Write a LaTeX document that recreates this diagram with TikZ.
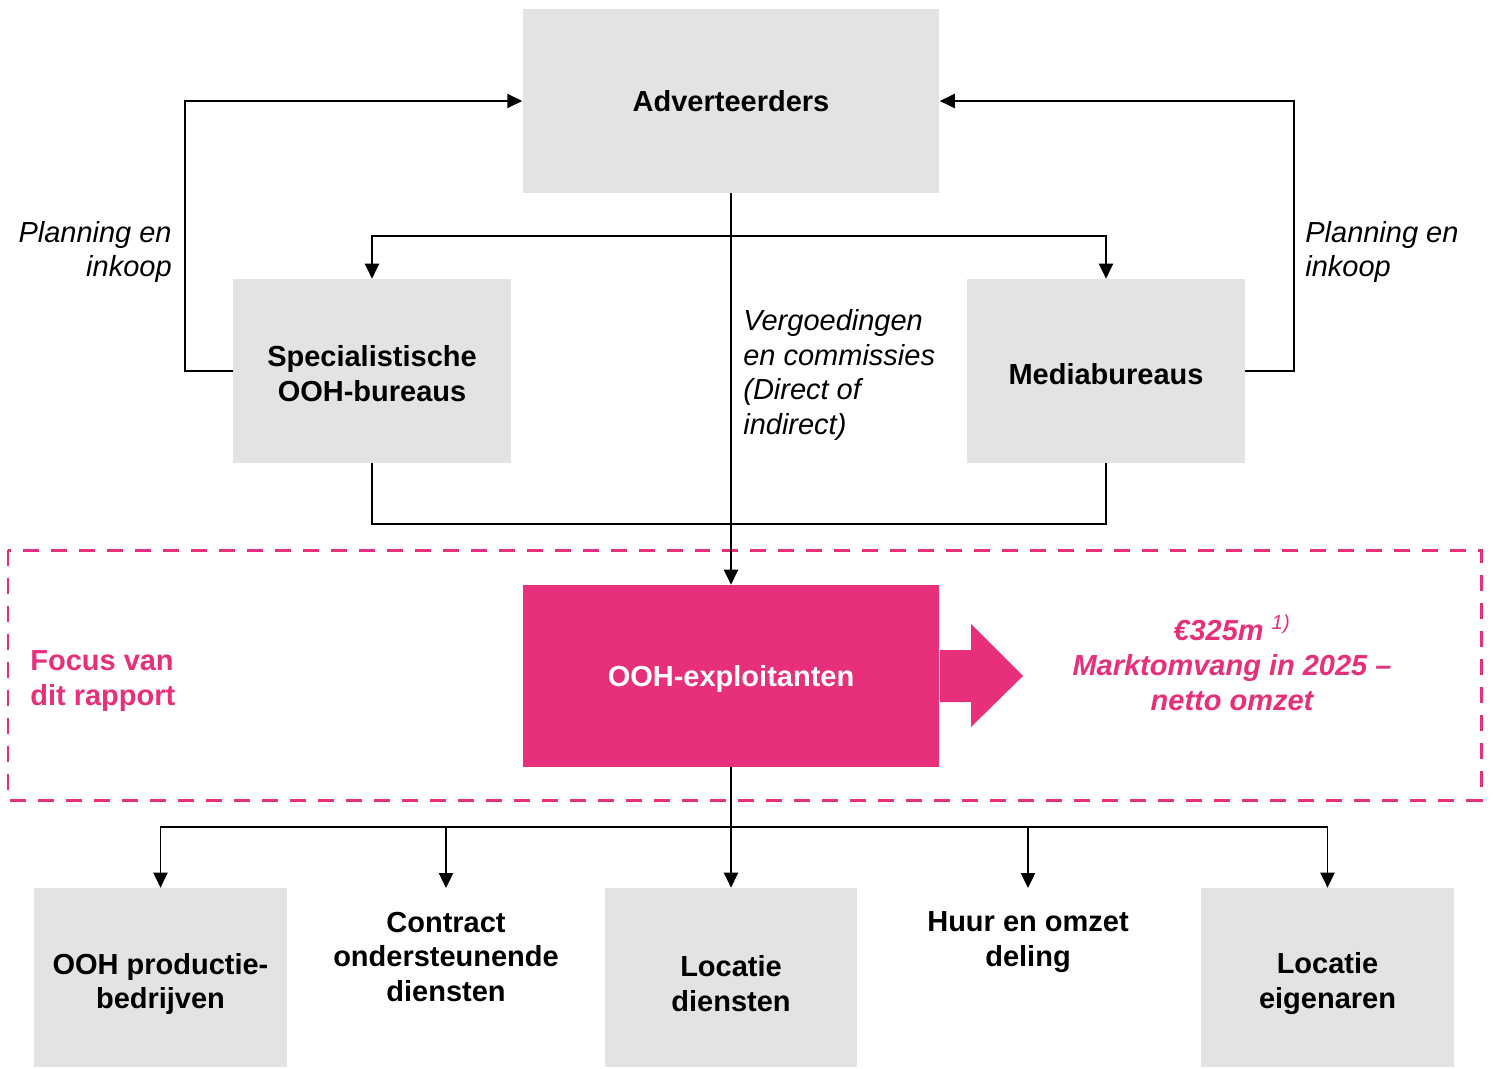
\documentclass[tikz,border=0pt]{standalone}
\usepackage{fontspec}
\setmainfont{Liberation Sans}
\usetikzlibrary{arrows.meta}
\definecolor{boxgrijs}{HTML}{E2E3E5}
\definecolor{oohroze}{HTML}{E72F7B}
\begin{document}
\begin{tikzpicture}[x=0.02cm,y=-0.02cm,
    blok/.style={fill=boxgrijs, align=center, inner sep=0pt, font=\bfseries\fontsize{16.5}{19.9}\selectfont},
    label/.style={align=left, inner sep=0pt, font=\itshape\fontsize{16.5}{19.9}\selectfont},
    tekst/.style={align=center, inner sep=0pt, font=\bfseries\fontsize{16.5}{19.9}\selectfont},
    lijn/.style={line width=1.1pt},
    pijl/.style={line width=1.1pt, -{Triangle[width=8pt,length=8.5pt]}}]
    \useasboundingbox (0,0) rectangle (1493,1068);

    % Focusgebied
    \draw[oohroze, line width=1.7pt, dash pattern=on 0.32cm off 0.24cm] (8,550) rectangle (1481,800);
    \node[tekst, align=left, text=oohroze, anchor=west] (focus) at (30,681) {Focus van\\dit rapport};

    % Adverteerders
    \node[blok, minimum width=8.34cm, minimum height=3.68cm] (adv) at (731,101) {Adverteerders};

    % Bureaus
    \node[blok, minimum width=5.56cm, minimum height=3.68cm] (spec) at (372,371) {};
    \node[tekst] (specnaam) at (372,374) {Specialistische\\OOH-bureaus};
    \node[blok, minimum width=5.56cm, minimum height=3.68cm] (medi) at (1106,371) {};
    \node[tekst] (medinaam) at (1106,374) {Mediabureaus};

    % Exploitanten
    \node[blok, fill=oohroze, minimum width=8.34cm, minimum height=3.64cm] (ooh) at (731,676) {};
    \node[tekst, text=white] (oohnaam) at (731,679) {OOH-exploitanten};
    \fill[oohroze] (ooh.east |- 0,650) -- (971,650) -- (971,624) -- (1023,676) -- (971,727) -- (971,702) -- (ooh.east |- 0,702) -- cycle;
    \node[tekst, text=oohroze, font=\bfseries\itshape\fontsize{16.5}{19.9}\selectfont] (omvang) at (1232,663)
        {€325m \textsuperscript{\mdseries 1)}\\Marktomvang in 2025 –\\netto omzet};

    % Onderste rij
    \node[blok, minimum width=5.06cm, minimum height=3.58cm] (prod) at (160.5,977.5) {};
    \node[tekst] (prodnaam) at (160.5,984) {OOH productie-\\bedrijven};
    \node[tekst] (contract) at (446,957) {Contract\\ondersteunende\\diensten};
    \node[blok, minimum width=5.06cm, minimum height=3.58cm] (locd) at (731,977.5) {};
    \node[tekst] (locdnaam) at (731,984) {Locatie\\diensten};
    \node[tekst] (huur) at (1028,942) {Huur en omzet\\deling};
    \node[blok, minimum width=5.06cm, minimum height=3.58cm] (loce) at (1327.5,977.5) {};
    \node[tekst] (locenaam) at (1327.5,984) {Locatie\\eigenaren};

    % Labels
    \node[label, align=right, anchor=east] (plan1) at (172,252) {Planning en\\inkoop};
    \node[label, anchor=west] (plan2) at (1305,252) {Planning en\\inkoop};
    \node[label, anchor=west] (verg) at (743,375) {Vergoedingen\\en commissies\\(Direct of\\indirect)};

    % Verbindingen
    \coordinate (splits) at (731,236);
    \coordinate (samen) at (731,524);
    \coordinate (verdeel) at (731,827);
    \coordinate (contractin) at (446,888);
    \coordinate (huurin) at (1028,888);

    \draw[pijl] (spec.west) -- ++(-48,0) |- (adv.west);
    \draw[pijl] (medi.east) -- ++(49,0) |- (adv.east);
    \draw[pijl] (splits) -| (spec.north);
    \draw[pijl] (splits) -| (medi.north);
    \draw[lijn] (spec.south) |- (samen) -| (medi.south);
    \draw[pijl] (adv.south) -- (ooh.north);

    \draw[pijl] (ooh.south) -- (locd.north);
    \draw[pijl] (verdeel) -| (prod.north);
    \draw[pijl] (verdeel) -| (contractin);
    \draw[pijl] (verdeel) -| (huurin);
    \draw[pijl] (verdeel) -| (loce.north);
\end{tikzpicture}
\end{document}
